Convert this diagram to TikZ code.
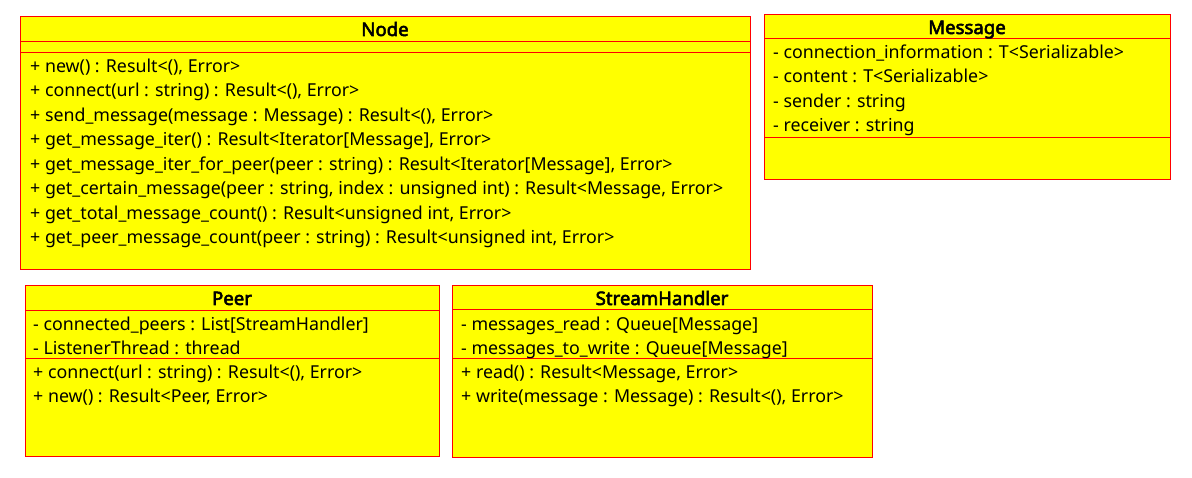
\documentclass[tikz,border=0pt]{standalone}
\usepackage{fontspec}
\setmainfont{Noto Sans}
\newfontfamily\titlefont{Noto Sans}[FakeBold=3]
\definecolor{uyellow}{RGB}{255,255,0}
\definecolor{ured}{RGB}{255,0,0}
\begin{document}
\begin{tikzpicture}[x=1pt,y=-1pt,
  classbox/.style={draw=ured, fill=uyellow, line width=1pt, inner sep=0pt, rectangle},
  sepline/.style={draw=ured, line width=1pt},
  title/.style={anchor=base, inner sep=0pt, font=\titlefont\fontsize{18.6}{20}\selectfont},
  member/.style={anchor=base west, inner sep=0pt, font=\fontsize{17.8}{20}\selectfont}]
\useasboundingbox (0,0) rectangle (1192,478);
\fill[white] (0,0) rectangle (1192,478);

% Node class
\node[classbox, minimum width=730pt, minimum height=253pt] (nodebox) at (385,143.5) {};
\coordinate (n1l) at (20,42); \coordinate (n1r) at (750,42);
\coordinate (n2l) at (20,53); \coordinate (n2r) at (750,53);
\draw[sepline] (n1l) -- (n1r);
\draw[sepline] (n2l) -- (n2r);
\node[title] (nodetitle) at (385,36) {Node};
\node[member] (nm1) at (30,72.5) {+ new() : Result<(), Error>};
\node[member] (nm2) at (30,97) {+ connect(url : string) : Result<(), Error>};
\node[member] (nm3) at (30,121.5) {+ send\_message(message : Message) : Result<(), Error>};
\node[member] (nm4) at (30,146) {+ get\_message\_iter() : Result<Iterator[Message], Error>};
\node[member] (nm5) at (30,170.5) {+ get\_message\_iter\_for\_peer(peer : string) : Result<Iterator[Message], Error>};
\node[member] (nm6) at (30,195) {+ get\_certain\_message(peer : string, index : unsigned int) : Result<Message, Error>};
\node[member] (nm7) at (30,219.5) {+ get\_total\_message\_count() : Result<unsigned int, Error>};
\node[member] (nm8) at (30,244) {+ get\_peer\_message\_count(peer : string) : Result<unsigned int, Error>};

% Message class
\node[classbox, minimum width=406pt, minimum height=165pt] (msgbox) at (967,97.5) {};
\coordinate (m1l) at (764,39); \coordinate (m1r) at (1170,39);
\coordinate (m2l) at (764,138); \coordinate (m2r) at (1170,138);
\draw[sepline] (m1l) -- (m1r);
\draw[sepline] (m2l) -- (m2r);
\node[title] (msgtitle) at (967,34) {Message};
\node[member] (ma1) at (773,58.5) {- connection\_information : T<Serializable>};
\node[member] (ma2) at (773,83) {- content : T<Serializable>};
\node[member] (ma3) at (773,107.5) {- sender : string};
\node[member] (ma4) at (773,132) {- receiver : string};

% Peer class
\node[classbox, minimum width=414pt, minimum height=170pt] (peerbox) at (232,371) {};
\coordinate (p1l) at (25,311); \coordinate (p1r) at (439,311);
\coordinate (p2l) at (25,359); \coordinate (p2r) at (439,359);
\draw[sepline] (p1l) -- (p1r);
\draw[sepline] (p2l) -- (p2r);
\node[title] (peertitle) at (232,305) {Peer};
\node[member] (pa1) at (33,330.5) {- connected\_peers : List[StreamHandler]};
\node[member] (pa2) at (33,354.5) {- ListenerThread : thread};
\node[member] (pm1) at (33,378.5) {+ connect(url : string) : Result<(), Error>};
\node[member] (pm2) at (33,402.5) {+ new() : Result<Peer, Error>};

% StreamHandler class
\node[classbox, minimum width=420pt, minimum height=171pt] (shbox) at (662,371.5) {};
\coordinate (s1l) at (452,310); \coordinate (s1r) at (872,310);
\coordinate (s2l) at (452,359); \coordinate (s2r) at (872,359);
\draw[sepline] (s1l) -- (s1r);
\draw[sepline] (s2l) -- (s2r);
\node[title] (shtitle) at (662,305) {StreamHandler};
\node[member] (sa1) at (461,330.5) {- messages\_read : Queue[Message]};
\node[member] (sa2) at (461,354.5) {- messages\_to\_write : Queue[Message]};
\node[member] (sm1) at (461,378.5) {+ read() : Result<Message, Error>};
\node[member] (sm2) at (461,402.5) {+ write(message : Message) : Result<(), Error>};
\end{tikzpicture}
\end{document}
